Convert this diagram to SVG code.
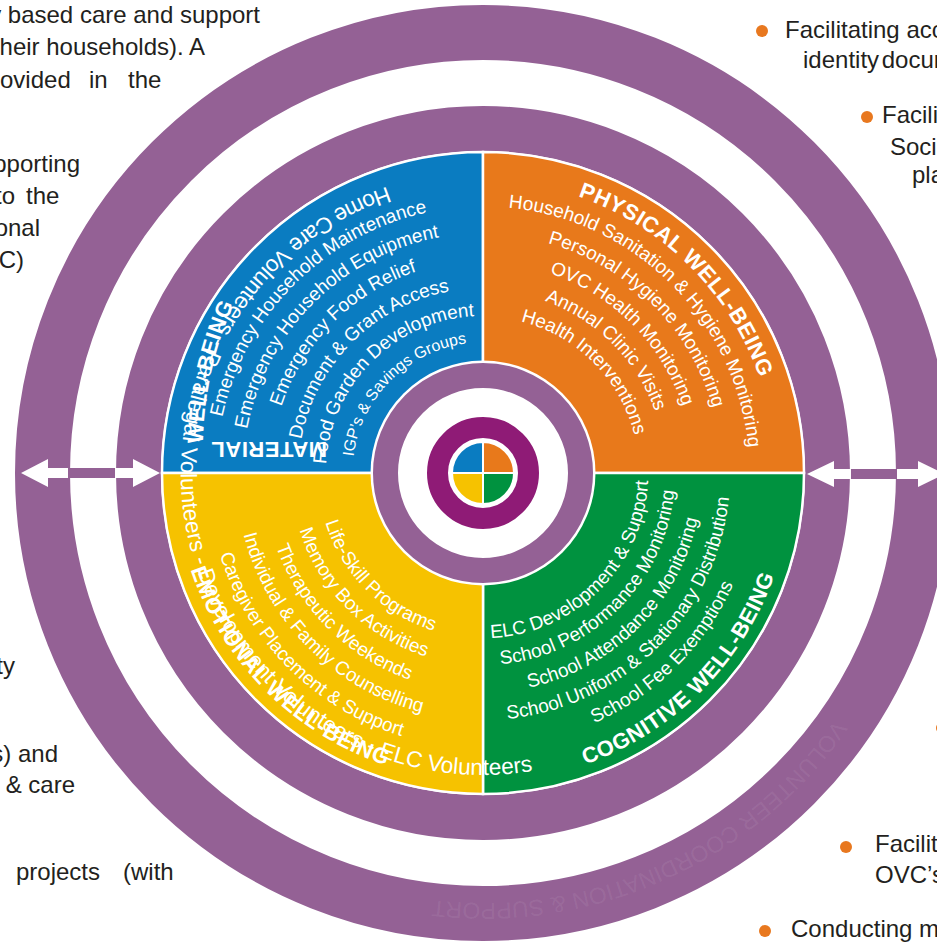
<svg xmlns="http://www.w3.org/2000/svg" width="937" height="942" viewBox="0 0 937 942">
  <defs>
    <style>
      .doc{font-family:"Liberation Sans",Arial,sans-serif;font-size:24px;fill:#231F20}
      .item{font-family:"Liberation Sans",Arial,sans-serif;font-size:19px;fill:#fff}
      .small{font-size:16px}
      .head{font-family:"Liberation Sans",Arial,sans-serif;font-size:22px;font-weight:bold;letter-spacing:0.5px;fill:#fff}
      .vol{font-family:"Liberation Sans",Arial,sans-serif;font-size:22.6px;fill:#fff}
      .mark{font-family:"Liberation Sans",Arial,sans-serif;font-size:23px;fill:#fff;fill-opacity:0.08}
      .ring{fill:none;stroke:#946195}
      .bullet{fill:#E8781F}
      .arrow{fill:#fff}
      .bar{fill:#946195}
    </style>
    <!-- physical (clockwise, centred on -45deg) -->
    <path id="p293" d="M294.7,248.6 A293,293 0 0 1 707.4,661.3"/>
    <path id="p267" d="M311.4,268.5 A267,267 0 0 1 687.5,644.6"/>
    <path id="p239" d="M329.4,289.9 A239,239 0 0 1 666.1,626.6"/>
    <path id="p211" d="M347.4,311.4 A211,211 0 0 1 644.6,608.6"/>
    <path id="p183" d="M365.4,332.8 A183,183 0 0 1 623.2,590.6"/>
    <path id="p156" d="M382.7,353.5 A156,156 0 0 1 602.5,573.3"/>
    <!-- material (clockwise, centred on 225deg) -->
    <path id="m267" d="M278.5,644.6 A267,267 0 0 1 654.6,268.5"/>
    <path id="m240" d="M299.2,627.3 A240,240 0 0 1 637.3,289.2"/>
    <path id="m212" d="M320.6,609.3 A212,212 0 0 1 619.3,310.6"/>
    <path id="m185" d="M341.3,591.9 A185,185 0 0 1 601.9,331.3"/>
    <path id="m157" d="M362.7,573.9 A157,157 0 0 1 583.9,352.7"/>
    <path id="m131" d="M382.7,557.2 A131,131 0 0 1 567.2,372.7"/>
    <path id="mhead" d="M327,442 L203,442 Q205,360 240,292"/>
    <!-- emotional (counter-clockwise, centred on 135deg) -->
    <path id="e165" d="M356.6,366.9 A165,165 0 0 0 589.1,599.4"/>
    <path id="e192" d="M335.9,349.6 A192,192 0 0 0 606.4,620.1"/>
    <path id="e219" d="M315.2,332.2 A219,219 0 0 0 623.8,640.8"/>
    <path id="e247" d="M293.8,314.2 A247,247 0 0 0 641.8,662.2"/>
    <path id="e275" d="M272.3,296.2 A275,275 0 0 0 659.8,683.7"/>
    <path id="e308" d="M247.1,275.0 A308,308 0 0 0 681.0,708.9"/>
    <!-- cognitive (counter-clockwise, centred on 45deg) -->
    <path id="c165" d="M376.9,599.4 A165,165 0 0 0 609.4,366.9"/>
    <path id="c192" d="M359.6,620.1 A192,192 0 0 0 630.1,349.6"/>
    <path id="c219" d="M342.2,640.8 A219,219 0 0 0 650.8,332.2"/>
    <path id="c247" d="M324.2,662.2 A247,247 0 0 0 672.2,314.2"/>
    <path id="c274" d="M306.9,682.9 A274,274 0 0 0 692.9,296.9"/>
    <path id="c309" d="M284.4,709.7 A309,309 0 0 0 719.7,274.4"/>
    <!-- volunteer band and outer ring caption -->
    <path id="volpath" d="M387.2,186.6 A302,302 0 1 0 634.0,734.5"/>
    <path id="markpath" d="M835.2,719.6 A430,430 0 0 1 335.9,877.1"/>
  </defs>

  <rect width="937" height="942" fill="#fff"/>

  <g id="outer-ring">
    <circle class="ring" cx="483" cy="473" r="440.5" stroke-width="55"/>
    <text class="mark"><textPath href="#markpath">VOLUNTEER COORDINATION &amp; SUPPORT</textPath></text>
  </g>

  <g id="middle-ring">
    <circle class="ring" cx="483" cy="473" r="344.5" stroke-width="45"/>
  </g>

  <g id="material">
    <path d="M483,473 L162,473 A321,321 0 0 1 483,152 Z" fill="#0A7CC1" stroke="#fff" stroke-width="2.5"/>
    <text class="item"><textPath href="#m267" startOffset="50%" text-anchor="middle">Emergency Household Maintenance</textPath></text>
    <text class="item"><textPath href="#m240" startOffset="50%" text-anchor="middle">Emergency Household Equipment</textPath></text>
    <text class="item"><textPath href="#m212" startOffset="50%" text-anchor="middle">Emergency Food Relief</textPath></text>
    <text class="item"><textPath href="#m185" startOffset="50%" text-anchor="middle">Document &amp; Grant Access</textPath></text>
    <text class="item"><textPath href="#m157" startOffset="50%" text-anchor="middle">Food Garden Development</textPath></text>
    <text class="item small"><textPath href="#m131" startOffset="50%" text-anchor="middle">IGP’s &amp; Savings Groups</textPath></text>
    <text class="head"><textPath href="#mhead">MATERIAL WELL-BEING</textPath></text>
  </g>

  <g id="physical">
    <path d="M483,473 L483,152 A321,321 0 0 1 804,473 Z" fill="#E8791B" stroke="#fff" stroke-width="2.5"/>
    <text class="head"><textPath href="#p293" startOffset="50%" text-anchor="middle">PHYSICAL WELL-BEING</textPath></text>
    <text class="item"><textPath href="#p267" startOffset="50%" text-anchor="middle">Household Sanitation &amp; Hygiene Monitoring</textPath></text>
    <text class="item"><textPath href="#p239" startOffset="50%" text-anchor="middle">Personal Hygiene Monitoring</textPath></text>
    <text class="item"><textPath href="#p211" startOffset="50%" text-anchor="middle">OVC Health Monitoring</textPath></text>
    <text class="item"><textPath href="#p183" startOffset="50%" text-anchor="middle">Annual Clinic Visits</textPath></text>
    <text class="item"><textPath href="#p156" startOffset="50%" text-anchor="middle">Health Interventions</textPath></text>
  </g>

  <g id="cognitive">
    <path d="M483,473 L804,473 A321,321 0 0 1 483,794 Z" fill="#00923F" stroke="#fff" stroke-width="2.5"/>
    <text class="item"><textPath href="#c165" startOffset="50%" text-anchor="middle">ELC Development &amp; Support</textPath></text>
    <text class="item"><textPath href="#c192" startOffset="50%" text-anchor="middle">School Performance Monitoring</textPath></text>
    <text class="item"><textPath href="#c219" startOffset="50%" text-anchor="middle">School Attendance Monitoring</textPath></text>
    <text class="item"><textPath href="#c247" startOffset="50%" text-anchor="middle">School Uniform &amp; Stationary Distribution</textPath></text>
    <text class="item"><textPath href="#c274" startOffset="50%" text-anchor="middle">School Fee Exemptions</textPath></text>
    <text class="head"><textPath href="#c309" startOffset="50%" text-anchor="middle">COGNITIVE WELL-BEING</textPath></text>
  </g>

  <g id="emotional">
    <path d="M483,473 L483,794 A321,321 0 0 1 162,473 Z" fill="#F6C200" stroke="#fff" stroke-width="2.5"/>
    <text class="item"><textPath href="#e165" startOffset="50%" text-anchor="middle">Life-Skill Programs</textPath></text>
    <text class="item"><textPath href="#e192" startOffset="50%" text-anchor="middle">Memory Box Activities</textPath></text>
    <text class="item"><textPath href="#e219" startOffset="50%" text-anchor="middle">Therapeutic Weekends</textPath></text>
    <text class="item"><textPath href="#e247" startOffset="50%" text-anchor="middle">Individual &amp; Family Counselling</textPath></text>
    <text class="item"><textPath href="#e275" startOffset="50%" text-anchor="middle">Caregiver Placement &amp; Support</textPath></text>
    <text class="head"><textPath href="#e308" startOffset="50%" text-anchor="middle">EMOTIONAL WELL-BEING</textPath></text>
  </g>

  <g id="volunteers">
    <text class="vol"><textPath href="#volpath">Home Care Volunteers - Paralegal Volunteers - Development Volunteers - ELC Volunteers</textPath></text>
  </g>

  <g id="hub">
    <circle cx="483" cy="473" r="112.5" fill="#fff"/>
    <circle class="ring" cx="483" cy="473" r="97.5" stroke-width="25"/>
    <circle cx="483" cy="473" r="45.5" fill="none" stroke="#8F1B76" stroke-width="21"/>
    <g stroke="#fff" stroke-width="2">
      <path d="M483,473 L452,473 A31,31 0 0 1 483,442 Z" fill="#0A7CC1"/>
      <path d="M483,473 L483,442 A31,31 0 0 1 514,473 Z" fill="#E8791B"/>
      <path d="M483,473 L514,473 A31,31 0 0 1 483,504 Z" fill="#00923F"/>
      <path d="M483,473 L483,504 A31,31 0 0 1 452,473 Z" fill="#F6C200"/>
    </g>
  </g>

  <g id="connectors">
    <polygon class="arrow" points="21,473 48,459 48,468 133,468 133,459 160,473 133,487 133,478 48,478 48,487"/>
    <rect class="bar" x="68" y="468" width="47" height="10"/>
    <polygon class="arrow" points="807,474 834,461 834,469 918,469 918,461 945,474 918,487 918,479 834,479 834,487"/>
    <rect class="bar" x="851" y="469" width="46" height="10"/>
  </g>

  <g id="notes-left" class="doc">
    <text x="260" y="23" text-anchor="end">y based care and support</text>
    <text x="205" y="55" text-anchor="end">heir households). A</text>
    <text x="0" y="88">ovided</text>
    <text x="89" y="88">in</text>
    <text x="128" y="88">the</text>
    <text x="80" y="172" text-anchor="end">pporting</text>
    <text x="15" y="204" text-anchor="end">to</text>
    <text x="26" y="204">the</text>
    <text x="40" y="236" text-anchor="end">onal</text>
    <text x="24" y="268" text-anchor="end">C)</text>
    <text x="15" y="674" text-anchor="end">ty</text>
    <text x="58" y="762" text-anchor="end">s) and</text>
    <text x="75" y="793" text-anchor="end">&amp; care</text>
    <text x="16" y="880">projects</text>
    <text x="123" y="880">(with</text>
  </g>

  <g id="notes-right">
    <circle class="bullet" cx="762" cy="31" r="6"/>
    <text class="doc" x="785" y="38">Facilitating access</text>
    <text class="doc" x="803" y="68" word-spacing="-4">identity documents</text>
    <circle class="bullet" cx="867" cy="117" r="6"/>
    <text class="doc" x="882" y="123">Facilitating</text>
    <text class="doc" x="890" y="155">Social</text>
    <text class="doc" x="912" y="183">place</text>
    <circle class="bullet" cx="942" cy="728" r="6"/>
    <circle class="bullet" cx="846" cy="847" r="6"/>
    <text class="doc" x="875" y="852">Facilitating</text>
    <text class="doc" x="875" y="883">OVC’s</text>
    <circle class="bullet" cx="765" cy="931" r="6"/>
    <text class="doc" x="791" y="937">Conducting m</text>
  </g>
</svg>
